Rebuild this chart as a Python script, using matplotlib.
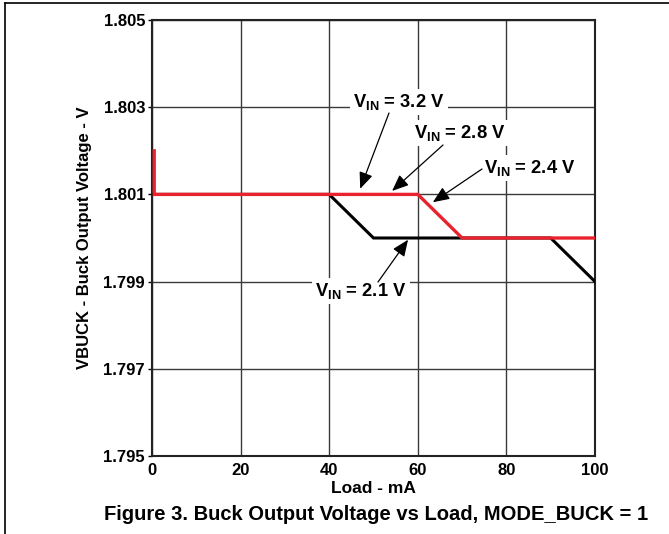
import matplotlib
matplotlib.use("Agg")
import matplotlib.pyplot as plt
from matplotlib.lines import Line2D

plt.rcParams['font.family'] = ['Liberation Sans', 'DejaVu Sans']
plt.rcParams['font.weight'] = 'bold'
plt.rcParams['mathtext.fontset'] = 'custom'
plt.rcParams['mathtext.rm'] = 'Liberation Sans:bold'
plt.rcParams['mathtext.it'] = 'Liberation Sans:bold'
plt.rcParams['mathtext.bf'] = 'Liberation Sans:bold'

# Data
load_21 = [0, 40, 50, 90, 100]
vout_21 = [1.801, 1.801, 1.800, 1.800, 1.799]
load_hi = [0.5, 0.5, 60, 70, 100]
vout_hi = [1.802, 1.801, 1.801, 1.800, 1.800]

x_ticks = [0, 20, 40, 60, 80, 100]
y_ticks = [1.795, 1.797, 1.799, 1.801, 1.803, 1.805]

annotations = [
    ("V$_{IN}$ = 3.2 V", (47.0, 1.80113), (399, 102), (389, 113)),
    ("V$_{IN}$ = 2.8 V", (54.2, 1.80108), (460, 133), (443, 145)),
    ("V$_{IN}$ = 2.4 V", (63.4, 1.80082), (530, 168), (482, 169)),
    ("V$_{IN}$ = 2.1 V", (57.8, 1.79996), (361, 291), (378, 282)),
]

W, H = 669, 534
fig = plt.figure(figsize=(W / 100, H / 100), dpi=100)
ax = fig.add_axes([152 / W, 1 - 456 / H, (595 - 152) / W, (456 - 20) / H])

ax.set_xlim(0, 100)
ax.set_ylim(1.795, 1.805)
ax.set_xticks(x_ticks)
ax.set_yticks(y_ticks)
ax.set_xticklabels([str(v) for v in x_ticks], fontsize=12, fontweight='bold')
ax.set_yticklabels([f"{v:.3f}" for v in y_ticks], fontsize=12, fontweight='bold')
ax.tick_params(axis='x', length=0, pad=5)
ax.tick_params(axis='y', length=3, width=1, pad=2, direction='out')
ax.grid(True, color='#3a3a3a', linewidth=1.0)
ax.set_axisbelow(True)
for s in ax.spines.values():
    s.set_linewidth(1.5)
    s.set_color('#222222')

ax.plot(load_21, vout_21, color='black', linewidth=2.2, zorder=3, solid_joinstyle='miter')
ax.plot(load_hi, vout_hi, color='#e8232e', linewidth=2.4, zorder=4, solid_joinstyle='miter')

ax.set_xlabel("Load - mA", fontsize=12.5, fontweight='bold', labelpad=2)
ax.set_ylabel("VBUCK - Buck Output Voltage - V", fontsize=12, fontweight='bold', labelpad=8)

inv = ax.transData.inverted()
def px2data(px, py):
    disp = (px, H - py)
    return inv.transform(disp)

for text, tip, tcenter, tail in annotations:
    tx, ty = px2data(*tcenter)
    ax.text(tx, ty, text, fontsize=13.2, fontweight='bold', ha='center', va='center',
            zorder=5, bbox=dict(boxstyle='square,pad=0.15', fc='white', ec='none'))
    ax.annotate("", xy=tip, xytext=px2data(*tail),
                arrowprops=dict(arrowstyle='-|>,head_length=1.0,head_width=0.42',
                                color='black', lw=0.9, shrinkA=0, shrinkB=0),
                zorder=6)

fig.text(376 / W, 1 - 514 / H, "Figure 3. Buck Output Voltage vs Load, MODE_BUCK = 1",
         fontsize=14.5, fontweight='bold', ha='center', va='center')

fig.add_artist(Line2D([5 / W, 1], [1 - 3 / H, 1 - 3 / H], transform=fig.transFigure, color='black', lw=1.2))
fig.add_artist(Line2D([5 / W, 5 / W], [0, 1 - 3 / H], transform=fig.transFigure, color='black', lw=1.2))

fig.savefig("out.png", dpi=100)
